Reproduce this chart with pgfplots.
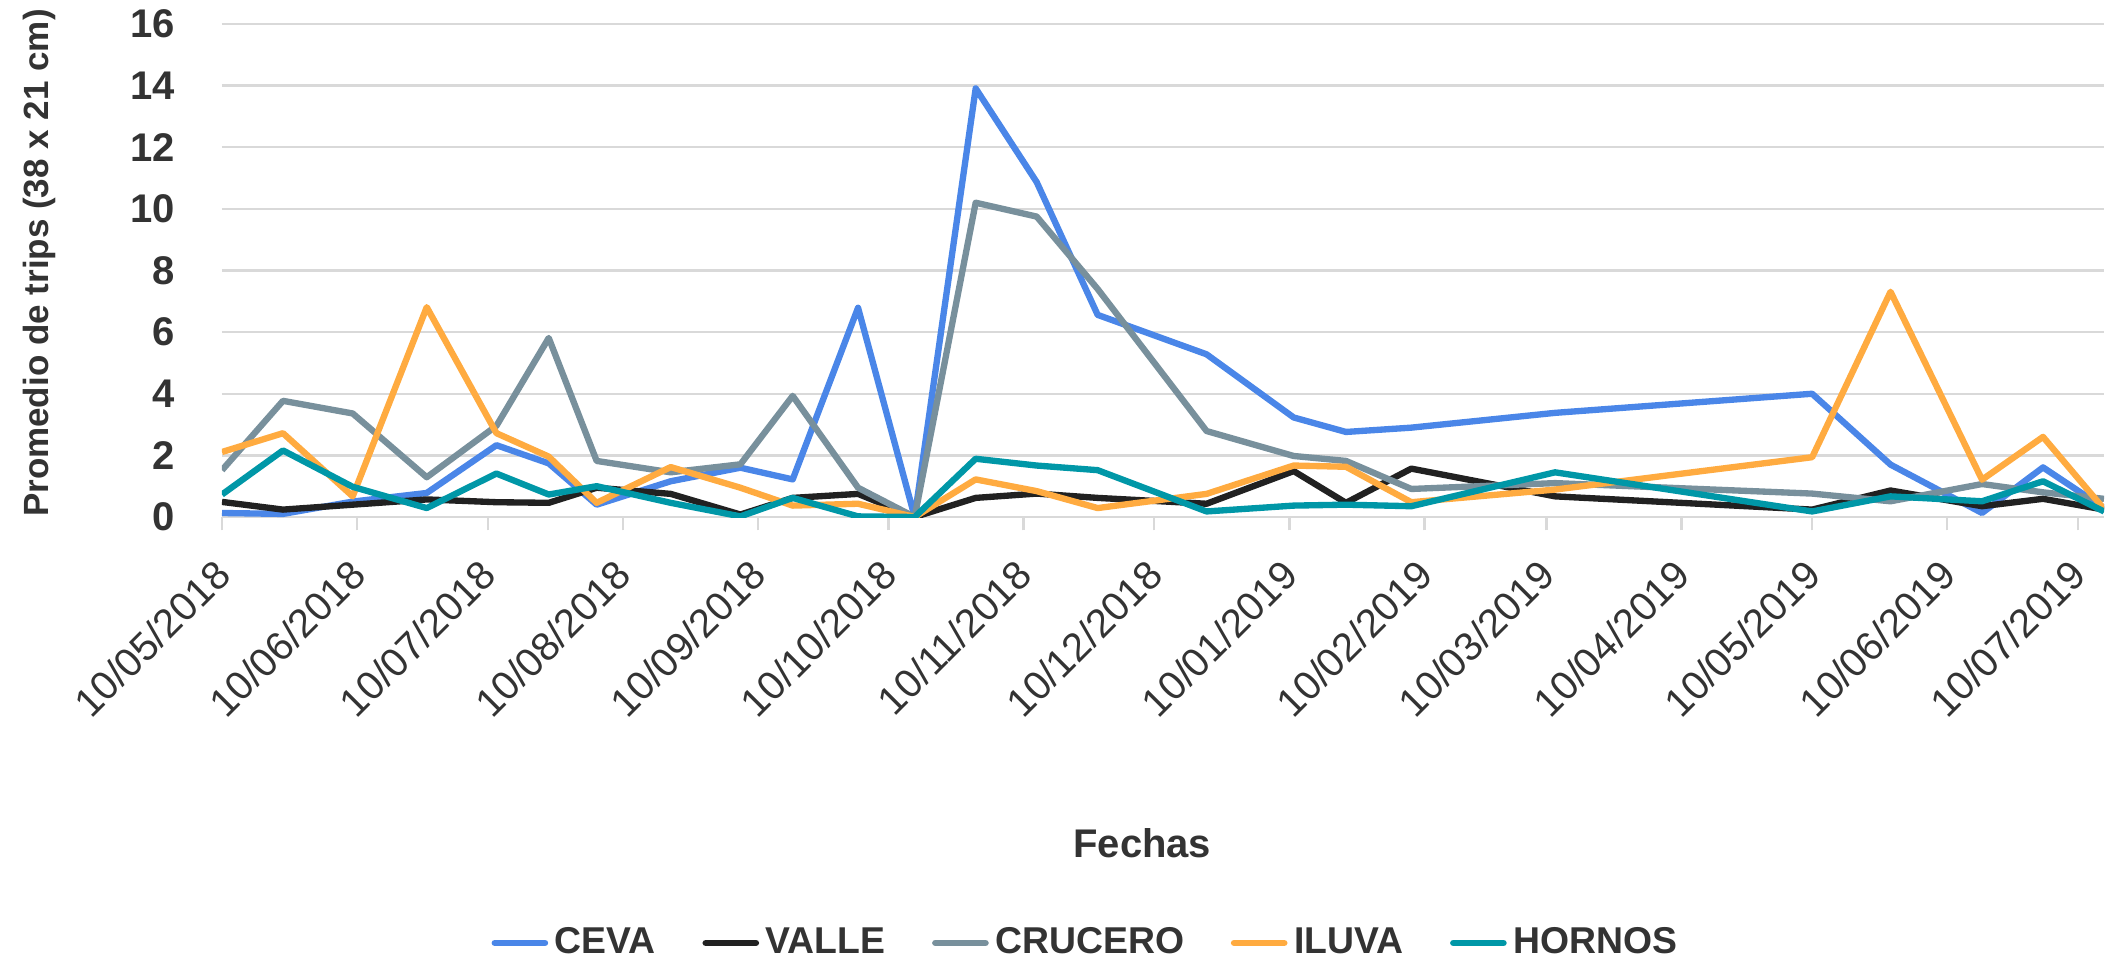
\documentclass[border=0pt]{standalone}
\usepackage{pgfplots}
\pgfplotsset{compat=1.18}
\usepackage{pgfplotstable}
\usepackage{fontspec}
\setmainfont{Liberation Sans}
\definecolor{ceva}{HTML}{4A86E8}
\definecolor{valle}{HTML}{212121}
\definecolor{crucero}{HTML}{78909C}
\definecolor{iluva}{HTML}{FFAB40}
\definecolor{hornos}{HTML}{0097A7}
\definecolor{gridc}{HTML}{D9D9D9}
\definecolor{txt}{HTML}{333333}

\pgfplotstableread{
day CEVA VALLE CRUCERO ILUVA HORNOS
0   0.13 0.49 1.52 2.11 0.73
14  0.10 0.24 3.77 2.72 2.16
30  0.50 0.40 3.36 0.67 0.98
47  0.78 0.57 1.29 6.81 0.29
63  2.33 0.48 2.96 2.72 1.41
75  1.74 0.46 5.81 1.96 0.73
86  0.40 0.95 1.82 0.46 1.00
103 1.16 0.75 1.45 1.62 0.46
119 1.60 0.08 1.71 0.95 0.02
131 1.22 0.62 3.93 0.37 0.62
146 6.79 0.75 0.95 0.43 0.02
159 0.00 0.00 0.00 0.00 0.00
173 13.91 0.62 10.20 1.22 1.89
187 10.87 0.76 9.75 0.84 1.67
201 6.56 0.62 7.40 0.29 1.52
226 5.28 0.43 2.79 0.75 0.18
246 3.23 1.49 1.98 1.67 0.37
258 2.76 0.46 1.82 1.63 0.40
273 2.90 1.57 0.91 0.48 0.35
306 3.38 0.67 1.10 0.89 1.45
365 4.00 0.24 0.76 1.94 0.18
383 1.70 0.86 0.51 7.31 0.67
404 0.13 0.35 1.07 1.21 0.51
418 1.61 0.59 0.80 2.60 1.16
432 0.29 0.24 0.59 0.26 0.18
}\datatable

\begin{document}
\begin{tikzpicture}
\path[use as bounding box] (-66.6pt,-133.8pt) rectangle (565.2pt,155.1pt);
\begin{axis}[
  at={(0pt,0pt)}, anchor=south west,
  scale only axis,
  width=564.6pt, height=147.9pt,
  xmin=0, xmax=432,
  ymin=0, ymax=16,
  ytick={0,2,...,16},
  xtick={0,31,61,92,123,153,184,214,245,276,304,335,365,396,426},
  xticklabels={10/05/2018,10/06/2018,10/07/2018,10/08/2018,10/09/2018,10/10/2018,10/11/2018,10/12/2018,10/01/2019,10/02/2019,10/03/2019,10/04/2019,10/05/2019,10/06/2019,10/07/2019},
  /pgf/number format/assume math mode=true,
  axis line style={draw=none},
  ymajorgrids, grid style={gridc, line width=0.7pt},
  tick align=outside,
  xtick pos=bottom, ytick pos=left,
  major tick length=4pt,
  xtick style={gridc, line width=0.7pt},
  ytick style={draw=none},
  yticklabel style={font=\fontsize{12}{14}\selectfont\bfseries, text=txt, xshift=-6.5pt},
  xticklabel style={xshift=2.7pt, yshift=-8.7pt, rotate=45, anchor=east, font=\fontsize{12}{14}\selectfont, text=txt},
  every axis y label/.style={at={(axis description cs:-0.097,0.515)}, rotate=90, anchor=center, font=\fontsize{10.5}{12}\selectfont\bfseries, text=txt},
  every axis x label/.style={at={(axis description cs:0.489,-0.661)}, anchor=center, font=\fontsize{12}{14}\selectfont\bfseries, text=txt},
  ylabel={Promedio de trips (38 x 21 cm)},
  xlabel={Fechas},
  legend columns=5,
  legend style={at={(axis description cs:0.46,-0.864)}, anchor=center, draw=none,
    font=\fontsize{11.2}{13}\selectfont\bfseries, text=txt,
    /tikz/every even column/.append style={column sep=12pt},
    inner sep=0pt},
  legend image code/.code={\draw[#1, line width=2pt, line cap=round] (0pt,0pt) -- (15pt,0pt);},
  every axis plot/.append style={line width=1.9pt, line join=round, mark=none},
]
\addplot[ceva] table[x=day, y=CEVA] {\datatable};
\addlegendentry{CEVA}
\addplot[valle] table[x=day, y=VALLE] {\datatable};
\addlegendentry{VALLE}
\addplot[crucero] table[x=day, y=CRUCERO] {\datatable};
\addlegendentry{CRUCERO}
\addplot[iluva] table[x=day, y=ILUVA] {\datatable};
\addlegendentry{ILUVA}
\addplot[hornos] table[x=day, y=HORNOS] {\datatable};
\addlegendentry{HORNOS}
\end{axis}
\end{tikzpicture}
\end{document}
